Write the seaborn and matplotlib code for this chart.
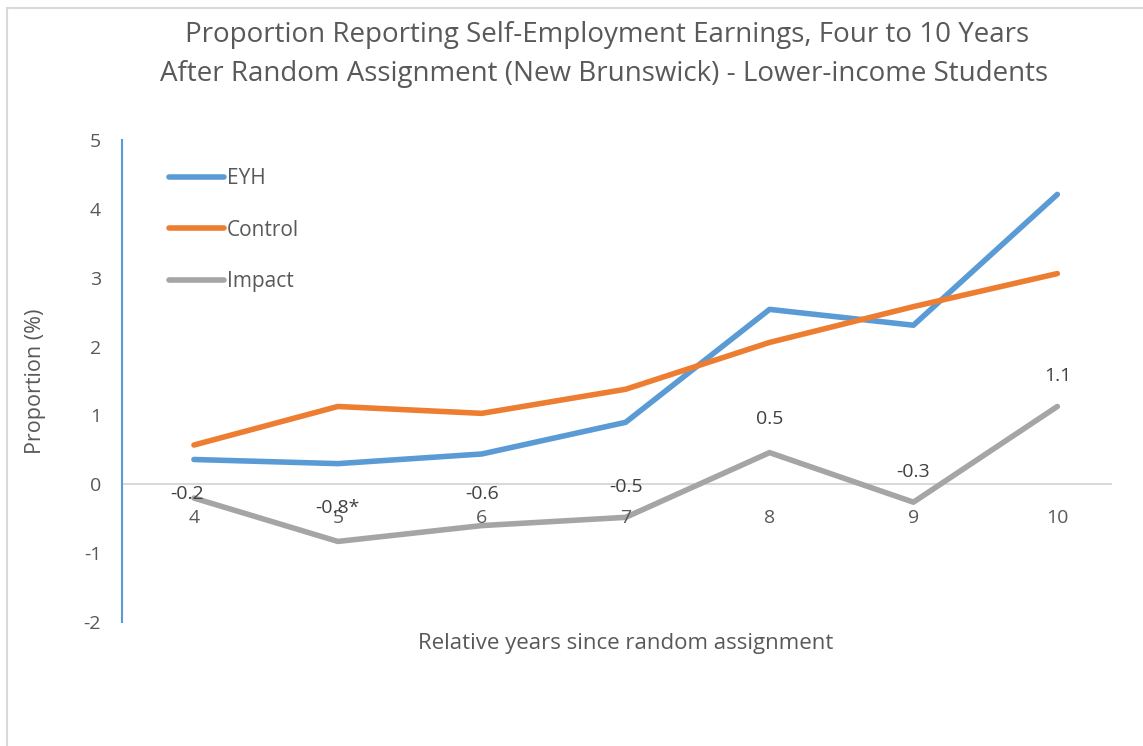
import numpy as np
import pandas as pd
import matplotlib.pyplot as plt
import seaborn as sns
from matplotlib.patches import Rectangle

# %% data
years = [4, 5, 6, 7, 8, 9, 10]
eyh = [0.36, 0.30, 0.44, 0.90, 2.54, 2.31, 4.21]
control = [0.57, 1.13, 1.03, 1.38, 2.06, 2.58, 3.06]
impact = [-0.20, -0.83, -0.60, -0.48, 0.46, -0.26, 1.13]
impact_labels = ["-0.2", "-0.8*", "-0.6", "-0.5", "0.5", "-0.3", "1.1"]

df = pd.DataFrame({"year": years, "EYH": eyh, "Control": control, "Impact": impact})
long = df.melt(id_vars="year", var_name="series", value_name="value")

# %% style
sns.set_style("white")
plt.rcParams["font.family"] = ["Open Sans", "DejaVu Sans"]
plt.rcParams["axes.unicode_minus"] = False
txt = "#595959"
palette = {"EYH": "#5B9BD5", "Control": "#ED7D31", "Impact": "#A5A5A5"}

fig = plt.figure(figsize=(11.43, 7.46), dpi=100)
fig.patches.append(Rectangle((7 / 1143, -0.1), 1.2, 1.1 - 8 / 746, transform=fig.transFigure,
                             fill=False, edgecolor="#D9D9D9", linewidth=1.5))
ax = fig.add_axes([122 / 1143, 1 - 622 / 746, (1112 - 122) / 1143, (622 - 140) / 746])

sns.lineplot(data=long, x="year", y="value", hue="series", palette=palette,
             linewidth=4, ax=ax, solid_capstyle="round")

ax.set_xlim(3.5, 10.38)
ax.set_ylim(-2, 5)
ax.axhline(0, color="#D9D9D9", linewidth=1.5, zorder=0)

for s in ["top", "right", "bottom"]:
    ax.spines[s].set_visible(False)
ax.spines["left"].set_color("#5B9BD5")
ax.spines["left"].set_linewidth(1.5)

ax.set_yticks(range(-2, 6))
ax.tick_params(axis="y", length=0, pad=15, labelsize=14, labelcolor=txt)
ax.set_xticks([])
for x in years:
    ax.annotate(str(x), (x, 0), xytext=(0, -34), textcoords="offset pixels",
                ha="center", va="center", fontsize=14, color=txt)

# data labels on impact series
offsets = [4, 33, 32, 30, 34, 30, 30]
for x, y, lab, off in zip(years, impact, impact_labels, offsets):
    ax.annotate(lab, (x, y), xytext=(-7 if x == 4 else 0, off), textcoords="offset pixels",
                ha="center", va="center", fontsize=14, color="#404040")

ax.set_ylabel("Proportion (%)", fontsize=15.5, color=txt, labelpad=27)
ax.set_xlabel("")
fig.text(626 / 1143, 1 - 644 / 746, "Relative years since random assignment",
         ha="center", va="center", fontsize=16, color=txt)

fig.text(607 / 1143, 1 - 35 / 746, "Proportion Reporting Self-Employment Earnings, Four to 10 Years",
         ha="center", va="center", fontsize=20, color=txt)
fig.text(604 / 1143, 1 - 74 / 746, "After Random Assignment (New Brunswick) - Lower-income Students",
         ha="center", va="center", fontsize=20, color=txt)

leg = ax.legend(loc="upper left", bbox_to_anchor=(0.029, 0.98), frameon=False,
                fontsize=15, labelspacing=1.45, handlelength=2.6, handletextpad=0.15)
for t in leg.get_texts():
    t.set_color(txt)
for h in leg.get_lines():
    h.set_linewidth(4)

fig.savefig("out.png", dpi=100)
